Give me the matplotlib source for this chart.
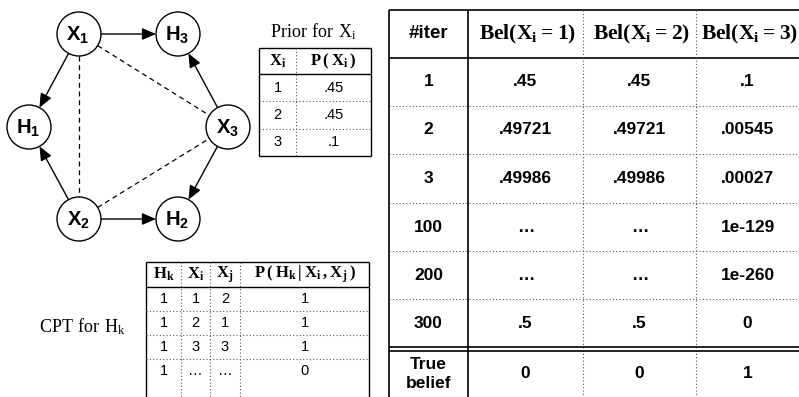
import matplotlib
matplotlib.use('Agg')
import matplotlib.pyplot as plt
from matplotlib.patches import Circle, FancyArrowPatch
import numpy as np

plt.rcParams['mathtext.fontset'] = 'custom'
plt.rcParams['mathtext.rm'] = 'Liberation Serif'
plt.rcParams['mathtext.bf'] = 'Liberation Serif:bold'
plt.rcParams['mathtext.sf'] = 'Liberation Sans:bold'
plt.rcParams['font.family'] = 'Liberation Sans'

# graph: node centres (pixels), labels and edges
nodes = {'X1': (79, 34), 'H3': (178, 34), 'H1': (29, 127),
         'X3': (228, 127), 'X2': (79, 219), 'H2': (178, 219)}
node_labels = {'X1': r'$\mathsf{X_1}$', 'H3': r'$\mathsf{H_3}$', 'H1': r'$\mathsf{H_1}$',
               'X3': r'$\mathsf{X_3}$', 'X2': r'$\mathsf{X_2}$', 'H2': r'$\mathsf{H_2}$'}
arrows = [('X1', 'H3'), ('X1', 'H1'), ('X2', 'H1'), ('X2', 'H2'), ('X3', 'H3'), ('X3', 'H2')]
dashed = [('X1', 'X2'), ('X1', 'X3'), ('X2', 'X3')]
radius = 22

# prior table
prior_head = [r'$\mathbf{X_i}$', r'$\mathbf{P\,(\,X_i\,)}$']
prior_x = ['1', '2', '3']
prior_p = ['.45', '.45', '.1']

# CPT table
cpt_head = [r'$\mathbf{H_k}$', r'$\mathbf{X_i}$', r'$\mathbf{X_j}$',
            r'$\mathbf{P\,(\,H_k\,|\,X_i\,,X_j\,)}$']
cpt_hk = ['1', '1', '1', '1']
cpt_xi = ['1', '2', '3', '…']
cpt_xj = ['2', '1', '3', '…']
cpt_p = ['1', '1', '1', '0']

# belief table
bel_head = ['#iter', r'$\mathbf{Bel(X_i = 1)}$', r'$\mathbf{Bel(X_i = 2)}$', r'$\mathbf{Bel(X_i = 3)}$']
iters = ['1', '2', '3', '100', '200', '300']
bel1 = ['.45', '.49721', '.49986', '…', '…', '.5']
bel2 = ['.45', '.49721', '.49986', '…', '…', '.5']
bel3 = ['.1', '.00545', '.00027', '1e-129', '1e-260', '0']
true_belief = ['0', '0', '1']

fig = plt.figure(figsize=(7.99, 3.97), dpi=100)
ax = fig.add_axes([0, 0, 1, 1])
ax.set_xlim(0, 799)
ax.set_ylim(397, 0)
ax.axis('off')


def solid(x0, x1, y0, y1, lw=1.0):
    ax.plot([x0, x1], [y0, y1], color='black', lw=lw, solid_capstyle='butt')


def dotted(x0, x1, y0, y1):
    ax.plot([x0, x1], [y0, y1], color='#555555', lw=0.8, ls=(0, (1, 2)))


# --- graph ---
for a, b in dashed:
    p0, p1 = np.array(nodes[a], float), np.array(nodes[b], float)
    u = (p1 - p0) / np.linalg.norm(p1 - p0)
    s, e = p0 + radius * u, p1 - radius * u
    ax.plot([s[0], e[0]], [s[1], e[1]], color='black', lw=0.9, ls=(0, (4, 3)))

for a, b in arrows:
    p0, p1 = np.array(nodes[a], float), np.array(nodes[b], float)
    u = (p1 - p0) / np.linalg.norm(p1 - p0)
    s, e = p0 + radius * u, p1 - radius * u
    ax.add_patch(FancyArrowPatch(tuple(s), tuple(e), arrowstyle='-|>,head_length=0.7,head_width=0.3',
                                 mutation_scale=12, color='black', lw=1.0, shrinkA=0, shrinkB=0))

for k, (x, y) in nodes.items():
    ax.add_patch(Circle((x, y), radius, facecolor='white', edgecolor='black', lw=1.0, zorder=3))
    ax.text(x - 1, y + 1, node_labels[k], ha='center', va='center', fontsize=14.5, zorder=4)

# --- prior table ---
ax.text(314, 32, r'$\mathrm{Prior\ for\ X_i}$', ha='center', va='center', fontsize=13)
px = [259, 296, 371]
py = [48, 74, 101, 129, 156]
solid(px[0], px[-1], py[0], py[0])
solid(px[0], px[-1], py[1], py[1])
solid(px[0], px[-1], py[-1], py[-1])
solid(px[0], px[0], py[0], py[-1])
solid(px[-1], px[-1], py[0], py[-1])
dotted(px[1], px[1], py[0], py[-1])
for y in py[2:-1]:
    dotted(px[0], px[-1], y, y)
for j, h in enumerate(prior_head):
    ax.text((px[j] + px[j + 1]) / 2, (py[0] + py[1]) / 2, h, ha='center', va='center', fontsize=12)
for i in range(len(prior_x)):
    yc = (py[i + 1] + py[i + 2]) / 2
    ax.text((px[0] + px[1]) / 2, yc, prior_x[i], ha='center', va='center', fontsize=10.5)
    ax.text((px[1] + px[2]) / 2, yc, prior_p[i], ha='center', va='center', fontsize=10.5)

# --- CPT table ---
ax.text(83, 327, r'$\mathrm{CPT\ for\ H_k}$', ha='center', va='center', fontsize=13)
cx = [146, 181, 210, 240, 369]
cy = [262, 287, 311, 335, 359, 383]
solid(cx[0], cx[-1], cy[0], cy[0])
solid(cx[0], cx[-1], cy[1], cy[1])
solid(cx[0], cx[0], cy[0], 397)
solid(cx[-1], cx[-1], cy[0], 397)
for x in cx[1:-1]:
    dotted(x, x, cy[0], 397)
for y in cy[2:-1]:
    dotted(cx[0], cx[-1], y, y)
for j, h in enumerate(cpt_head):
    ax.text((cx[j] + cx[j + 1]) / 2, (cy[0] + cy[1]) / 2, h, ha='center', va='center', fontsize=12)
cols = [cpt_hk, cpt_xi, cpt_xj, cpt_p]
for i in range(len(cpt_hk)):
    yc = (cy[i + 1] + cy[i + 2]) / 2
    for j, col in enumerate(cols):
        ax.text((cx[j] + cx[j + 1]) / 2, yc, col[i], ha='center', va='center', fontsize=10.5)

# --- belief table ---
bx = [389, 468, 583, 696, 799]
by = [10, 58, 106, 154, 203, 251, 299, 347]
solid(bx[0], bx[-1], by[0], by[0], 1.2)
solid(bx[0], bx[-1], by[1], by[1], 1.2)
solid(bx[0], bx[0], by[0], 397, 1.2)
solid(bx[1], bx[1], by[0], 397, 1.2)
for x in bx[2:-1]:
    dotted(x, x, by[0], 397)
for y in by[2:-1]:
    dotted(bx[0], bx[-1], y, y)
solid(bx[0], bx[-1], by[-1], by[-1], 1.2)
solid(bx[0], bx[-1], by[-1] + 4, by[-1] + 4, 1.2)

for j, h in enumerate(bel_head):
    xc = (bx[j] + bx[j + 1]) / 2
    if j == 0:
        ax.text(xc, 34, h, ha='center', va='center', fontsize=13.5, fontweight='bold')
    else:
        ax.text(xc + 2, 34, h, ha='center', va='center', fontsize=15.5)
cols = [iters, bel1, bel2, bel3]
for i in range(len(iters)):
    yc = (by[i + 1] + by[i + 2]) / 2
    for j, col in enumerate(cols):
        ax.text((bx[j] + bx[j + 1]) / 2, yc, col[i], ha='center', va='center',
                fontsize=12.5, fontweight='bold')
ax.text((bx[0] + bx[1]) / 2, 374, 'True\nbelief', ha='center', va='center',
        fontsize=12.5, fontweight='bold', linespacing=1.3)
for j, v in enumerate(true_belief):
    ax.text((bx[j + 1] + bx[j + 2]) / 2, 374, v, ha='center', va='center',
            fontsize=12.5, fontweight='bold')

fig.savefig('out.png', dpi=100)
